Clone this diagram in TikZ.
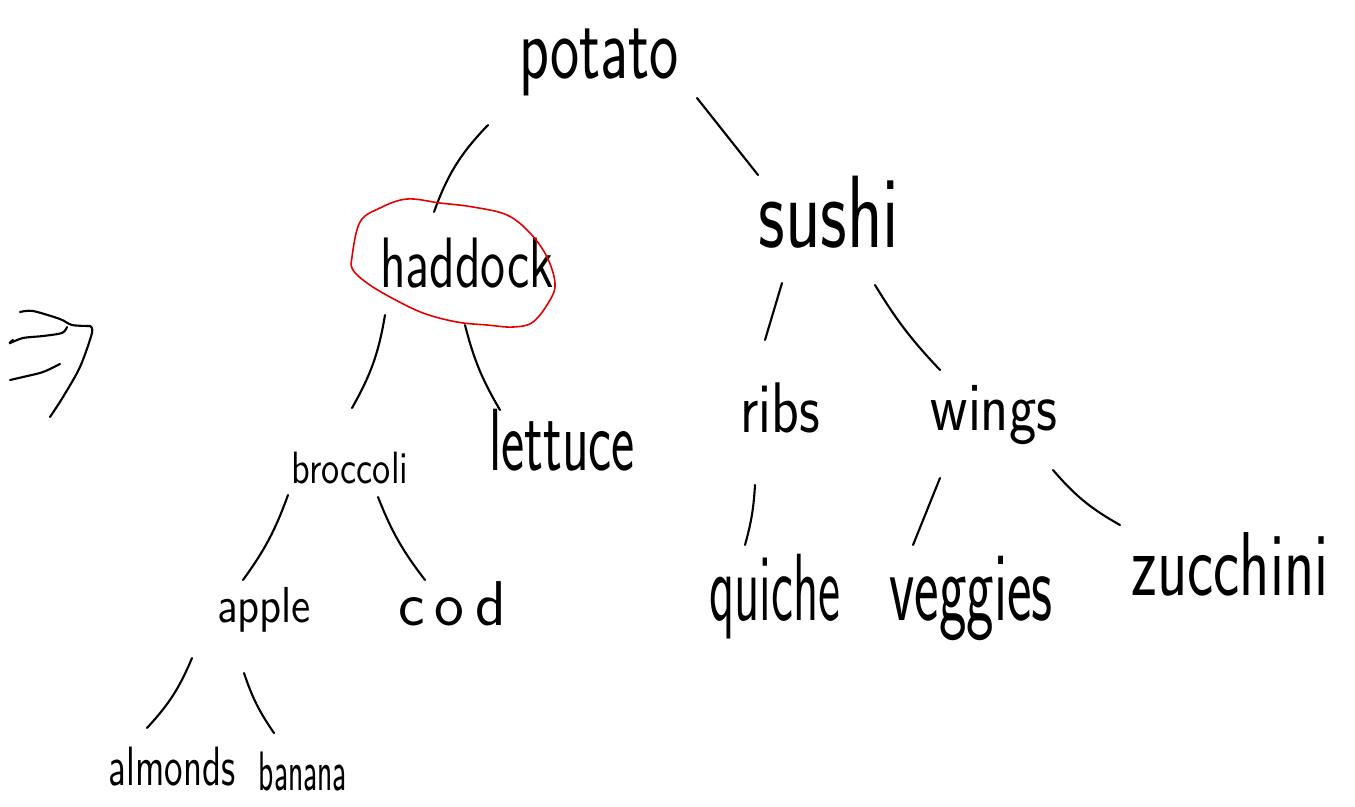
\documentclass[tikz,border=0pt]{standalone}
\usepackage{graphicx}
\usepackage{tikz}
\colorlet{ink}{black}
\colorlet{mark}{red!90!black}
\tikzset{
  food/.style={inner sep=0pt,anchor=base,text=ink,font=\sffamily},
  branch/.style={draw=ink,line width=.6pt,line cap=round},
  loop/.style={draw=mark,line width=.45pt,line join=round}
}
% size, vertical stretch, word
\newcommand{\scrawl}[3]{{\fontsize{#1}{#1}\selectfont\scalebox{1}[#2]{#3}}}

\begin{document}
\begin{tikzpicture}[x=0.01cm,y=-0.01cm]
  \useasboundingbox (0,0) rectangle (1355,806);
  % words
  \node[food] (potato)   at (599,78)  {\scrawl{17.6pt}{1.45}{potato}};
  \node[food] (sushi)    at (829,247) {\scrawl{20.9pt}{1.4}{sushi}};
  \node[food] (haddock)  at (467,287) {\scrawl{14.5pt}{1.4}{haddock}};
  \node[food] (broccoli) at (350,483) {\scrawl{10.3pt}{1.25}{broccoli}};
  \node[food] (lettuce)  at (562,470) {\scrawl{15.7pt}{1.6}{lettuce}};
  \node[food] (ribs)     at (780,432) {\scrawl{16.3pt}{1.25}{ribs}};
  \node[food] (wings)    at (994,430) {\scrawl{16.5pt}{1.2}{wings}};
  \node[food] (apple)    at (264,622) {\scrawl{12.5pt}{1.15}{apple}};
  \node[food] (cod)      at (452,625) {\scrawl{18pt}{1}{c\,o\,d}};
  \node[food] (quiche)   at (775,620) {\scrawl{14.3pt}{1.9}{quiche}};
  \node[food] (veggies)  at (971,620) {\scrawl{16.6pt}{1.7}{veggies}};
  \node[food] (zucchini) at (1230,595) {\scrawl{17.8pt}{1.45}{zucchini}};
  \node[food] (almonds)  at (172,785) {\scrawl{10.5pt}{1.5}{almonds}};
  \node[food] (banana)   at (303,790) {\scrawl{7.9pt}{2}{banana}};
  % branches
  \draw[branch] ([shift={(-111,47)}]potato.base) to[bend right=12] ([shift={(-33,-75)}]haddock.base);
  \draw[branch] ([shift={(98,20)}]potato.base) -- ([shift={(-71,-72)}]sushi.base);
  \draw[branch] ([shift={(-82,28)}]haddock.base) to[bend left=10] ([shift={(2,-75)}]broccoli.base);
  \draw[branch] ([shift={(-2,38)}]haddock.base) to[bend right=8] ([shift={(-62,-60)}]lettuce.base);
  \draw[branch] ([shift={(-47,36)}]sushi.base) -- ([shift={(-15,-92)}]ribs.base);
  \draw[branch] ([shift={(46,38)}]sushi.base) to[bend right=6] ([shift={(-54,-60)}]wings.base);
  \draw[branch] ([shift={(-62,12)}]broccoli.base) to[bend left=8] ([shift={(-21,-42)}]apple.base);
  \draw[branch] ([shift={(28,14)}]broccoli.base) to[bend right=8] ([shift={(-27,-45)}]cod.base);
  \draw[branch] ([shift={(-72,36)}]apple.base) to[bend left=10] ([shift={(-25,-57)}]almonds.base);
  \draw[branch] ([shift={(-20,51)}]apple.base) to[bend right=8] ([shift={(-29,-57)}]banana.base);
  \draw[branch] ([shift={(-25,53)}]ribs.base) to[bend left=6] ([shift={(-30,-75)}]quiche.base);
  \draw[branch] ([shift={(-54,48)}]wings.base) -- ([shift={(-58,-75)}]veggies.base);
  \draw[branch] ([shift={(59,40)}]wings.base) to[bend right=10] ([shift={(-110,-70)}]zucchini.base);
  % red ring
  \draw[loop] plot[smooth cycle,tension=.6] coordinates {(352,257)(360,222)(380,208)(407,199)(440,203)(473,207)(507,215)(530,233)(547,257)(555,283)(550,300)(533,322)(513,327)(487,325)(457,322)(423,313)(390,297)(367,283)(353,270)};
  % the implies sign
  \draw[branch] plot[smooth] coordinates {(20,312)(33,311)(60,319)(72,325)(90,326)};
  \draw[branch] plot[smooth] coordinates {(90,326)(92,333)(80,367)(63,397)(50,417)};
  \draw[branch] plot[smooth] coordinates {(67,327)(62,333)(43,336)(23,338)(10,343)(13,340)};
  \draw[branch] plot[smooth] coordinates {(60,364)(43,372)(23,377)(10,380)};
\end{tikzpicture}
\end{document}
